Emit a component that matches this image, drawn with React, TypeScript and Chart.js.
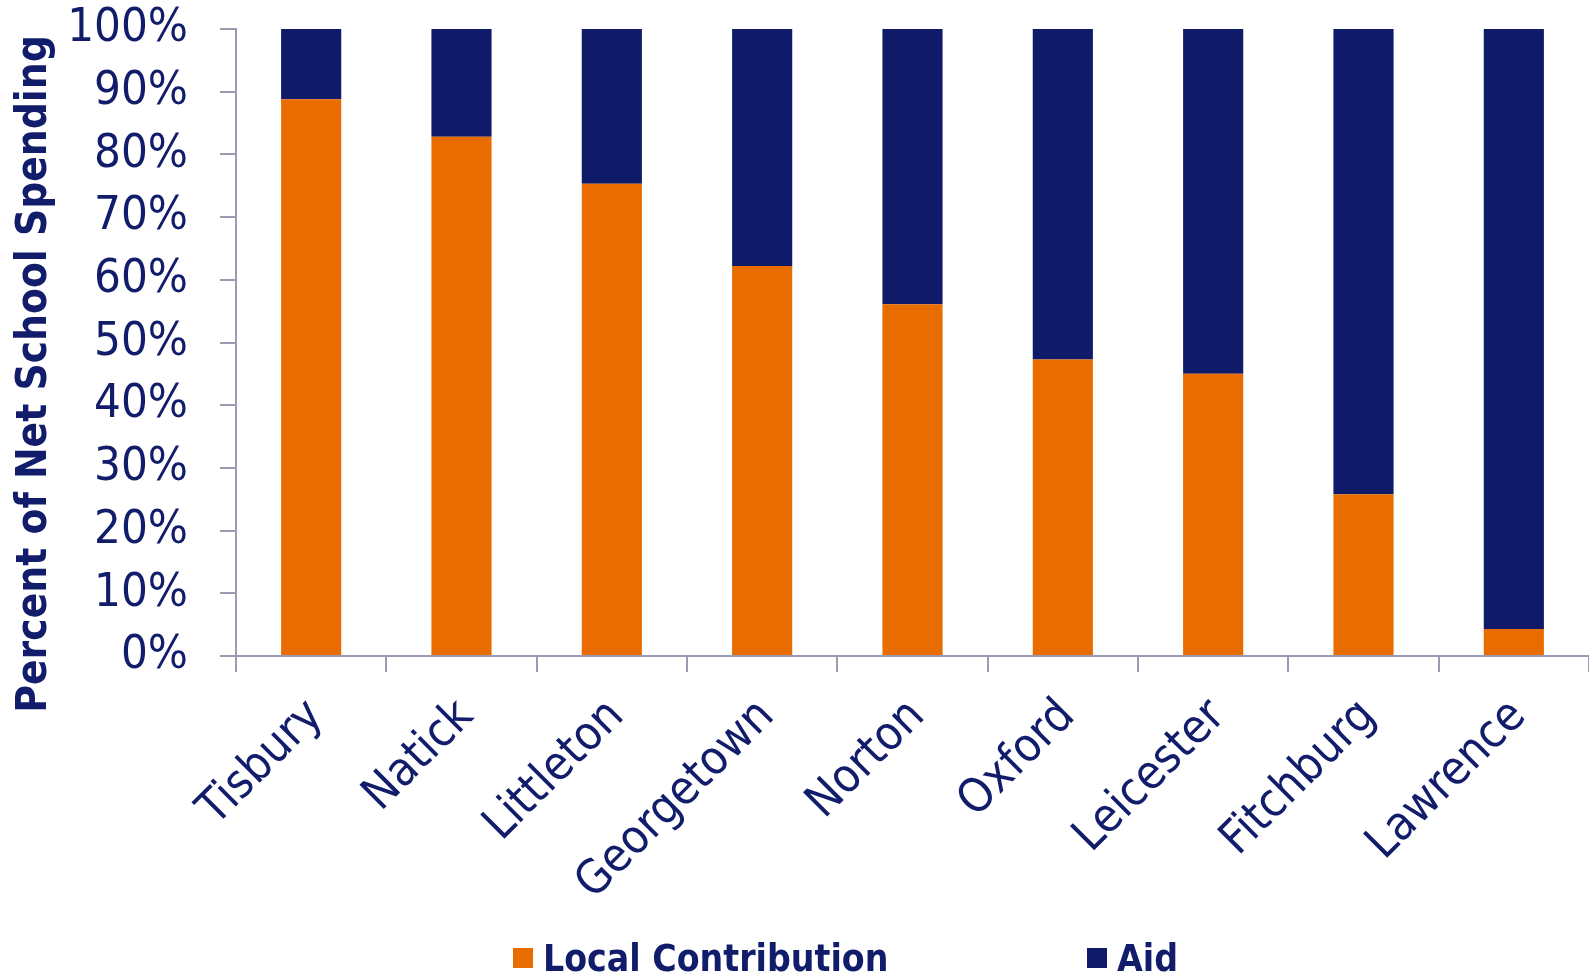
import React, { useEffect, useRef } from 'react';
import { Chart, registerables } from 'chart.js';

Chart.register(...registerables);

const categories = ['Tisbury', 'Natick', 'Littleton', 'Georgetown', 'Norton', 'Oxford', 'Leicester', 'Fitchburg', 'Lawrence'];
const localContribution = [88.8, 82.8, 75.3, 62.2, 56.1, 47.3, 45.0, 25.8, 4.3];
const aid = [11.2, 17.2, 24.7, 37.8, 43.9, 52.7, 55.0, 74.2, 95.7];
const seriesNames = ['Local Contribution', 'Aid'];
const seriesColors = ['#E86C00', '#0F1B69'];
const yAxisTitle = 'Percent of Net School Spending';
const yMin = 0;
const yMax = 100;
const yStep = 10;

const FONT = "'DejaVu Sans Condensed', 'DejaVu Sans', sans-serif";
const TEXT = '#111C6B';
const AXIS = '#9A9AB2';

const yTitlePlugin = {
  id: 'yTitlePlugin',
  afterDraw(chart: any) {
    const ctx = chart.ctx;
    ctx.save();
    ctx.translate(35, 374);
    ctx.rotate(-Math.PI / 2);
    ctx.font = `bold 42px ${FONT}`;
    ctx.fillStyle = TEXT;
    ctx.textAlign = 'center';
    ctx.textBaseline = 'middle';
    ctx.fillText(yAxisTitle, 0, 0);
    ctx.restore();
  },
};

const legendPlugin = {
  id: 'customLegend',
  afterDraw(chart: any) {
    const ctx = chart.ctx;
    const items = [
      { box: 513, text: 543 },
      { box: 1087, text: 1117 },
    ];
    ctx.save();
    ctx.font = `bold 37px ${FONT}`;
    ctx.textAlign = 'left';
    ctx.textBaseline = 'alphabetic';
    chart.data.datasets.forEach((ds: any, i: number) => {
      const it = items[i];
      ctx.fillStyle = ds.backgroundColor;
      ctx.fillRect(it.box, 948, 20, 20);
      ctx.fillStyle = TEXT;
      ctx.fillText(ds.label, it.text, 971);
    });
    ctx.restore();
  },
};

export default function App() {
  const ref = useRef<HTMLCanvasElement | null>(null);

  useEffect(() => {
    if (!ref.current) return;
    const chart = new Chart(ref.current, {
      type: 'bar',
      data: {
        labels: categories,
        datasets: [
          { label: seriesNames[0], data: localContribution, backgroundColor: seriesColors[0], barPercentage: 0.4, categoryPercentage: 1 },
          { label: seriesNames[1], data: aid, backgroundColor: seriesColors[1], barPercentage: 0.4, categoryPercentage: 1 },
        ],
      },
      options: {
        responsive: false,
        animation: false,
        devicePixelRatio: 1,
        layout: { padding: { left: 0, top: 29, right: 0, bottom: 70 } },
        plugins: {
          legend: { display: false },
          tooltip: { enabled: false },
        },
        scales: {
          x: {
            stacked: true,
            grid: { drawOnChartArea: false, drawTicks: true, tickLength: 16, color: AXIS, lineWidth: 2, offset: true },
            border: { color: AXIS, width: 2 },
            ticks: {
              color: TEXT,
              font: { family: FONT, size: 47 },
              maxRotation: 45,
              minRotation: 45,
              padding: 17,
              labelOffset: 5,
              autoSkip: false,
            },
            afterFit(scale: any) {
              scale.height = 250;
              scale.paddingLeft = 0;
              scale.paddingRight = 0;
            },
          },
          y: {
            stacked: true,
            min: yMin,
            max: yMax,
            grid: { drawOnChartArea: false, drawTicks: true, tickLength: 16, color: AXIS, lineWidth: 2 },
            border: { color: AXIS, width: 2 },
            ticks: {
              stepSize: yStep,
              color: TEXT,
              font: { family: FONT, size: 47 },
              padding: 32,
              callback: (v: any) => `${v}%`,
            },
            afterFit(scale: any) {
              scale.width = 236;
              scale.paddingTop = 0;
              scale.paddingBottom = 0;
            },
          },
        },
      },
      plugins: [yTitlePlugin, legendPlugin],
    });
    return () => chart.destroy();
  }, []);

  return (
    <div style={{ position: 'absolute', left: 0, top: 0, width: 1589, height: 976, background: '#fff' }}>
      <canvas ref={ref} width={1589} height={976} style={{ display: 'block' }} />
    </div>
  );
}
